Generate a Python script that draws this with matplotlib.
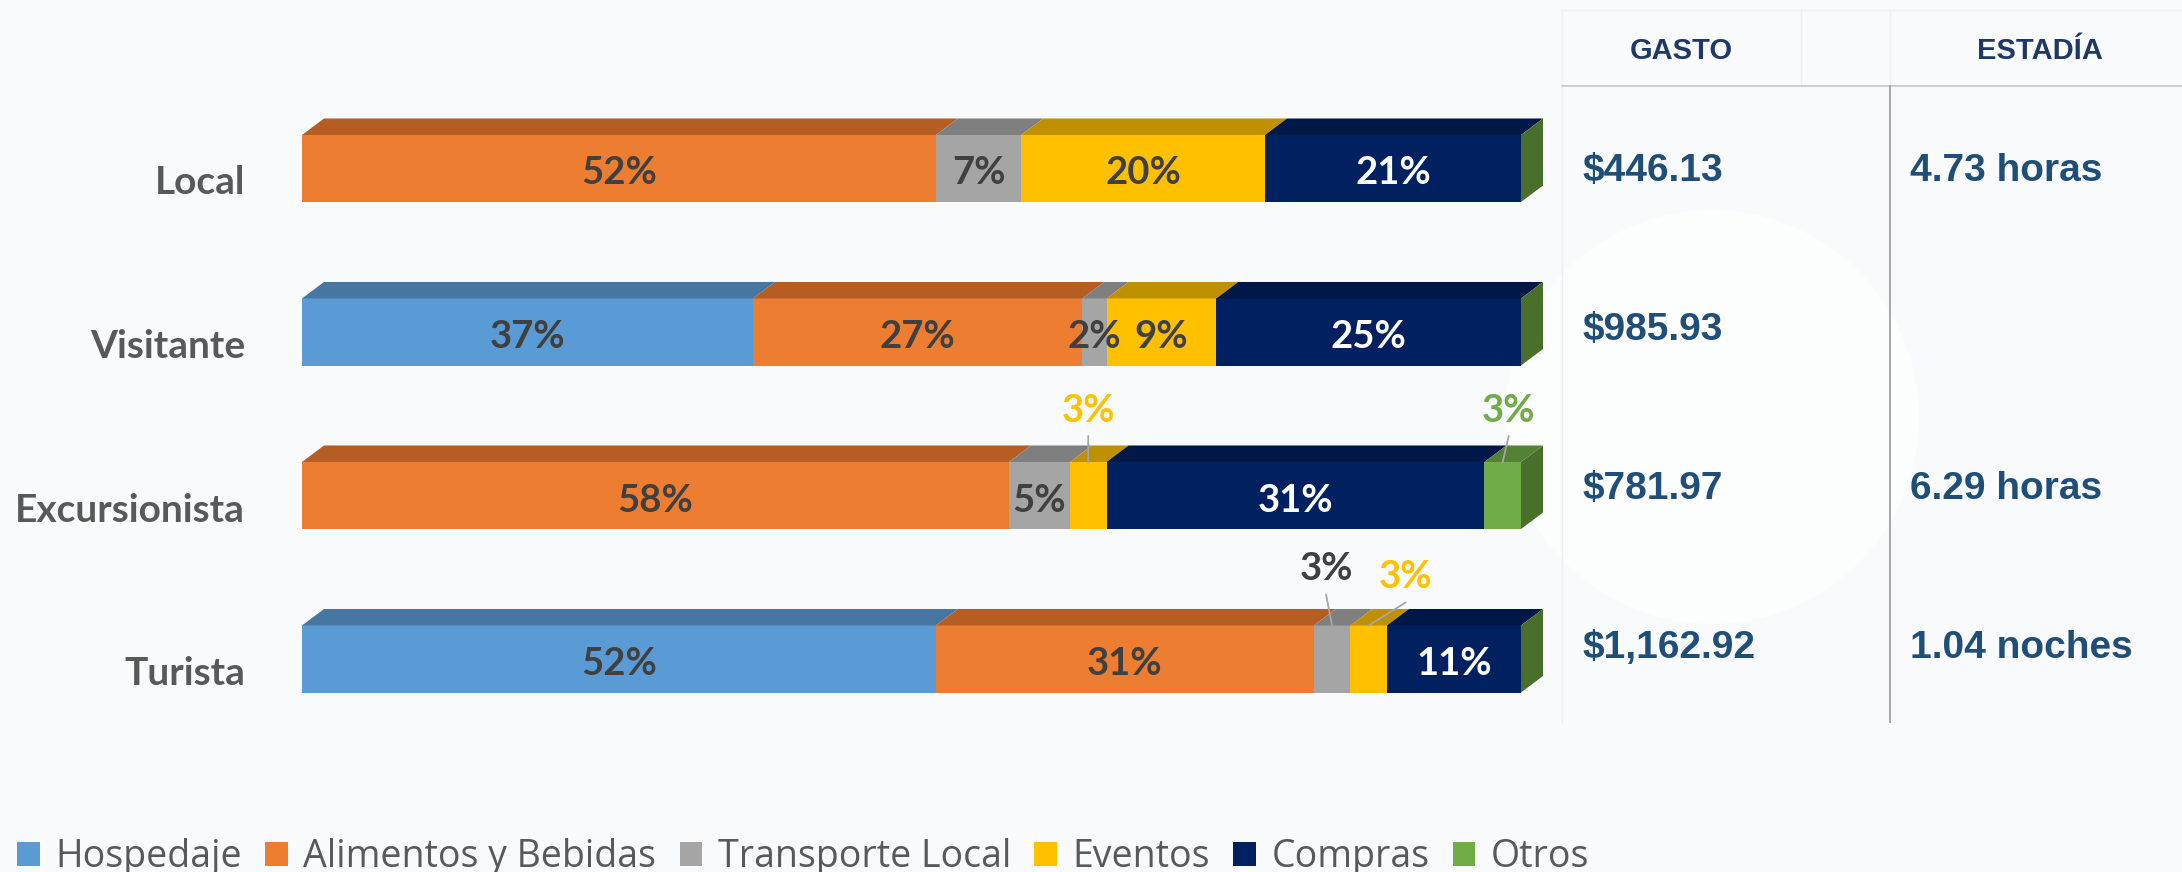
import matplotlib
matplotlib.use('Agg')
import matplotlib.pyplot as plt
from matplotlib.patches import Polygon, Patch, Circle
from matplotlib.lines import Line2D
from matplotlib.font_manager import FontProperties
import numpy as np

# ---------------- data ----------------
categories = ['Local', 'Visitante', 'Excursionista', 'Turista']
series_names = ['Hospedaje', 'Alimentos y Bebidas', 'Transporte Local', 'Eventos', 'Compras', 'Otros']
hospedaje = [0, 37, 0, 52]
alimentos = [52, 27, 58, 31]
transporte = [7, 2, 5, 3]
eventos = [20, 9, 3, 3]
compras = [21, 25, 31, 11]
otros = [0, 0, 3, 0]
gasto = ['$446.13', '$985.93', '$781.97', '$1,162.92']
estadia = ['4.73 horas', '', '6.29 horas', '1.04 noches']
table_headers = ['GASTO', 'ESTADÍA']

# ---------------- style ----------------
front_colors = ['#5B9BD5', '#ED7D31', '#A5A5A5', '#FFC000', '#002060', '#70AD47']
top_colors = ['#4676A1', '#B55D23', '#7F7F7F', '#BF9000', '#001848', '#548235']
side_color = '#4A6F2B'
label_colors = ['#404040', '#404040', '#404040', '#404040', '#FFFFFF', '#404040']
callout_colors = {2: '#404040', 3: '#FFC000', 5: '#70AD47'}
# callouts: (row, series) -> (text dx, text dy, leader start dx, leader start dy) in pixels
callouts = {
    (2, 3): (0, -54, 0, -26),
    (2, 5): (6, -54, 6, -26),
    (3, 2): (-6, -59, -6, -31),
    (3, 3): (37, -51, 37, -23),
}

W, H = 2182, 872
fig = plt.figure(figsize=(W / 100, H / 100), dpi=100, facecolor='#F9FAFC')

# faint background decoration
fig.add_artist(Circle((17.12, (H - 417) / 100), 2.07, transform=fig.dpi_scale_trans,
                      facecolor='#FCFDFD', edgecolor='none', zorder=-10))

row_pitch = 163.5
top_center = 168.5
ax_top = top_center - row_pitch / 2
ax_bot = top_center + 3 * row_pitch + row_pitch / 2
ax = fig.add_axes([302 / W, 1 - ax_bot / H, 1219 / W, (ax_bot - ax_top) / H])
ax.set_xlim(0, 100)
ax.set_ylim(3.5, -0.5)
ax.axis('off')
ax.patch.set_alpha(0)

vals = np.array([hospedaje, alimentos, transporte, eventos, compras, otros], dtype=float)
lefts = np.vstack([np.zeros(4), np.cumsum(vals, axis=0)[:-1]])
ypos = np.arange(len(categories))
bh = 0.41

for s in range(len(series_names)):
    ax.barh(ypos, vals[s], left=lefts[s], height=bh, color=front_colors[s], linewidth=0, zorder=2)

px_x = ax.bbox.width / 100.0
px_y = ax.bbox.height / 4.0
dxu = 22 / px_x
dyu = 16.5 / px_y

for r in range(len(categories)):
    ytop = ypos[r] - bh / 2
    ybot = ypos[r] + bh / 2
    for s in range(len(series_names)):
        v = vals[s, r]
        if v <= 0:
            continue
        l = lefts[s, r]
        rr = l + v
        poly = Polygon([(l, ytop), (rr, ytop), (rr + dxu, ytop - dyu), (l + dxu, ytop - dyu)],
                       closed=True, facecolor=top_colors[s], edgecolor='none', zorder=2,
                       clip_on=False)
        ax.add_patch(poly)
    R = vals[:, r].sum()
    side = Polygon([(R, ytop), (R + dxu, ytop - dyu), (R + dxu, ybot - dyu), (R, ybot)],
                   closed=True, facecolor=side_color, edgecolor='none', zorder=2, clip_on=False)
    ax.add_patch(side)

# value labels
lab_font = dict(family='Lato', weight='bold', size=27.5)
for r in range(len(categories)):
    for s in range(len(series_names)):
        v = vals[s, r]
        if v <= 0:
            continue
        cx = lefts[s, r] + v / 2
        txt = f'{int(v)}%'
        if (r, s) in callouts:
            tdx, tdy, ldx, ldy = callouts[(r, s)]
            ytop = ypos[r] - bh / 2
            ax.annotate('', xy=(cx, ytop), xytext=(ldx * 0.72, -ldy * 0.72), textcoords='offset points',
                        arrowprops=dict(arrowstyle='-', color='#A6A6A6', lw=1.3, shrinkA=0, shrinkB=0),
                        zorder=3, annotation_clip=False)
            ax.annotate(txt, xy=(cx, ytop), xytext=(tdx * 0.72, -(tdy + 14) * 0.72),
                        textcoords='offset points', ha='center', va='baseline',
                        color=callout_colors[s], zorder=4, annotation_clip=False, **lab_font)
        else:
            ax.annotate(txt, xy=(cx, ypos[r]), xytext=(0, -16 * 0.72), textcoords='offset points',
                        ha='center', va='baseline', color=label_colors[s], zorder=4, **lab_font)

# category labels
for r, c in enumerate(categories):
    ax.annotate(c, xy=(0, ypos[r]), xytext=(-57 * 0.72, -26 * 0.72), textcoords='offset points',
                ha='right', va='baseline', color='#595959', family='Lato', weight='bold', size=28,
                annotation_clip=False)

# table
def fy(y):
    return 1 - y / H

line_kw = dict(transform=fig.transFigure)
fig.add_artist(Line2D([1562 / W, 1], [fy(10), fy(10)], color='#EDEFF3', lw=1, **line_kw))
fig.add_artist(Line2D([1562 / W, 1562 / W], [fy(10), fy(722)], color='#EDEFF3', lw=1, **line_kw))
fig.add_artist(Line2D([1801 / W, 1801 / W], [fy(10), fy(86)], color='#EDEFF3', lw=1, **line_kw))
fig.add_artist(Line2D([1890 / W, 1890 / W], [fy(10), fy(86)], color='#EDEFF3', lw=1, **line_kw))
fig.add_artist(Line2D([1562 / W, 1], [fy(86), fy(86)], color='#C4C7CC', lw=1.2, **line_kw))
fig.add_artist(Line2D([1890 / W, 1890 / W], [fy(86), fy(722)], color='#A6A6A6', lw=1.4, **line_kw))

hdr_font = dict(family='Liberation Sans', weight='bold', size=21, color='#1F3864')
fig.text(1681 / W, fy(59), table_headers[0], ha='center', va='baseline', **hdr_font)
fig.text(2040 / W, fy(59), table_headers[1], ha='center', va='baseline', **hdr_font)

val_font = dict(family='Liberation Sans', weight='bold', size=28, color='#1F4E79')
for i in range(len(categories)):
    yb = 181 + i * 159
    fig.text(1582 / W, fy(yb), gasto[i], ha='left', va='baseline', **val_font)
    if estadia[i]:
        fig.text(1910 / W, fy(yb), estadia[i], ha='left', va='baseline', **val_font)

# legend
handles = [Patch(facecolor=c, edgecolor='none') for c in front_colors]
fig.legend(handles, series_names, loc='center left', bbox_to_anchor=(17 / W, fy(857)), ncol=6,
           frameon=False, prop=FontProperties(family='Open Sans', size=27),
           handlelength=0.6, handleheight=0.62, handletextpad=0.42, columnspacing=0.62,
           borderpad=0, borderaxespad=0, labelcolor='#595959')

fig.savefig('out.png', dpi=100, facecolor=fig.get_facecolor())
